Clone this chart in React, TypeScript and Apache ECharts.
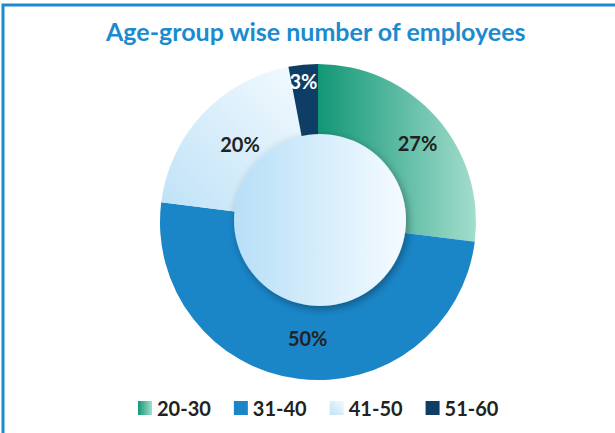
import React, { useEffect, useRef } from "react";
import * as echarts from "echarts";

const categories = ["20-30", "31-40", "41-50", "51-60"];
const values = [27, 50, 20, 3];
const titleText = "Age-group wise number of employees";

export default function App() {
  const ref = useRef<HTMLDivElement>(null);
  useEffect(() => {
    document.body.style.margin = "0";
    const chart = echarts.init(ref.current!, null, { renderer: "svg" });
    const colors: any[] = [
      new echarts.graphic.LinearGradient(0, 0, 1, 0, [
        { offset: 0, color: "#129776" },
        { offset: 1, color: "#a3ddcd" },
      ]),
      "#1a86c8",
      new echarts.graphic.LinearGradient(0, 1, 1, 0, [
        { offset: 0, color: "#bfe2f7" },
        { offset: 1, color: "#f3fafe" },
      ]),
      "#0e3e66",
    ];
    const labelColors = ["#222", "#222", "#222", "#fff"];
    const labelOffsets = [[8, 2], [5, -5], [11, 6], [-3, -20]];
    chart.setOption({
      animation: false,
      title: {
        text: titleText,
        left: 101,
        top: 13,
        textStyle: { fontFamily: "Lato", fontWeight: "bold", fontSize: 25, color: "#1b8bd0" },
      },
      legend: {
        bottom: 10,
        left: 133,
        itemWidth: 14,
        itemHeight: 14,
        itemGap: 23,
        icon: "rect",
        textStyle: { fontFamily: "Lato", fontWeight: "bold", fontSize: 20, color: "#222" },
        data: categories,
      },
      graphic: [
        {
          type: "rect",
          shape: { x: 3, y: 5, width: 640, height: 460 },
          style: { fill: "none", stroke: "#1b8bd0", lineWidth: 3 },
          z: 1,
        },
        {
          type: "circle",
          shape: { cx: 320, cy: 220, r: 86 },
          style: {
            fill: new echarts.graphic.LinearGradient(0, 0, 1, 0, [
              { offset: 0, color: "#b7dff7" },
              { offset: 1, color: "#f5fbff" },
            ]),
            shadowColor: "rgba(0,0,0,0.35)",
            shadowBlur: 8,
            shadowOffsetX: 2,
            shadowOffsetY: 3,
          },
          z: 100,
        },
      ],
      series: [
        {
          type: "pie",
          center: [318, 222],
          radius: [80, 158],
          startAngle: 90,
          clockwise: true,
          label: {
            position: "inside",
            formatter: "{c}%",
            fontFamily: "Lato",
            fontWeight: "bold",
            fontSize: 20,
          },
          labelLine: { show: false },
          data: categories.map((c, i) => ({
            name: c,
            value: values[i],
            itemStyle: { color: colors[i] },
            label: { color: labelColors[i], offset: labelOffsets[i] },
          })),
        },
      ],
    });
    return () => chart.dispose();
  }, []);
  return <div ref={ref} style={{ width: 615, height: 433 }} />;
}
